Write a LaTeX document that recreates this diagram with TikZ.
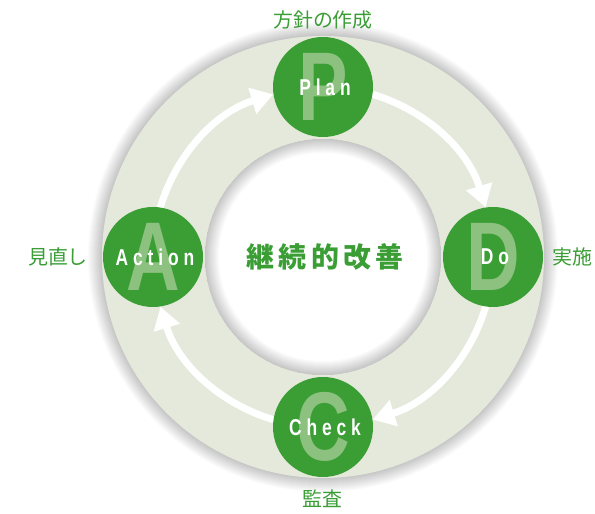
\documentclass[tikz,border=0pt]{standalone}
\usepackage{fontspec}
\setmainfont{Liberation Sans}
\newfontfamily\cjk{Noto Sans CJK JP}
\newfontfamily\cjkwide[LetterSpace=15]{Noto Sans CJK JP}
\newfontfamily\lblfont[LetterSpace=28]{Liberation Sans}
\usetikzlibrary{arrows.meta}
\definecolor{pdgreen}{RGB}{58,158,53}
\definecolor{pdlight}{RGB}{141,193,127}
\definecolor{ringc}{RGB}{228,233,219}
\begin{document}
\begin{tikzpicture}[x=1bp,y=1bp,
  phase/.style={circle, fill=pdgreen, minimum size=100bp, inner sep=0pt},
  bigletter/.style={text=pdlight, inner sep=0pt, font=\fontsize{98}{98}\selectfont\bfseries},
  phaselabel/.style={text=white, inner sep=0pt, font=\lblfont\fontsize{23}{23}\selectfont\bfseries},
  note/.style={text=pdgreen, inner sep=0pt, font=\cjk\fontsize{20}{20}\selectfont},
  cyc/.style={white, line width=7bp, -{Triangle[length=22bp,width=26bp]}}]
\useasboundingbox (0,0) rectangle (595,514);
\fill[white] (0,0) rectangle (595,514);
\coordinate (O) at (323,257);
% outer shadow
\foreach \k in {1,...,14} {
  \fill[black, opacity=0.016] (O) circle[radius=221+\k];
}
% ring
\fill[ringc, even odd rule] (O) circle[radius=221] (O) circle[radius=118];
\fill[white] (O) circle[radius=118];
% inner shadow
\foreach \k in {1,...,14} {
  \fill[black, opacity=0.016, even odd rule] (O) circle[radius=118] (O) circle[radius=118-\k];
}
% cycle arrows
\draw[cyc] ([shift={(173:170)}]O) arc[start angle=173, end angle=107, radius=170];
\draw[cyc] ([shift={(83:170)}]O) arc[start angle=83, end angle=17, radius=170];
\draw[cyc] ([shift={(-7:170)}]O) arc[start angle=-7, end angle=-73, radius=170];
\draw[cyc] ([shift={(263:170)}]O) arc[start angle=263, end angle=197, radius=170];
% phase circles
\node[phase] (P) at (323,427) {};
\node[phase] (D) at (493,257) {};
\node[phase] (C) at (323,87) {};
\node[phase] (A) at (153,257) {};
% big letters
\node[bigletter] (bP) at (P) {\scalebox{0.76}[1]{P}};
\node[bigletter] (bD) at (D) {\scalebox{0.76}[1]{D}};
\node[bigletter] (bC) at (C) {\scalebox{0.76}[1]{C}};
\node[bigletter] (bA) at (A) {\scalebox{0.76}[1]{A}};
% phase labels
\node[phaselabel] (lP) at ([xshift=2bp]P) {\scalebox{0.76}[1]{Plan}};
\node[phaselabel] (lD) at ([xshift=2bp]D) {\scalebox{0.76}[1]{Do}};
\node[phaselabel] (lC) at ([xshift=2bp]C) {\scalebox{0.76}[1]{Check}};
\node[phaselabel] (lA) at ([xshift=2bp]A) {\scalebox{0.76}[1]{Action}};
% notes
\node[note] (nP) at (323,494) {方針の作成};
\node[note] (nD) at (572,257) {実施};
\node[note] (nC) at (322,15) {監査};
\node[note] (nA) at (58,257) {見直し};
% center
\node[text=pdgreen, inner sep=0pt, font=\cjkwide\fontsize{28}{28}\selectfont\bfseries] (center) at ([xshift=2bp]O) {継続的改善};
\end{tikzpicture}
\end{document}
